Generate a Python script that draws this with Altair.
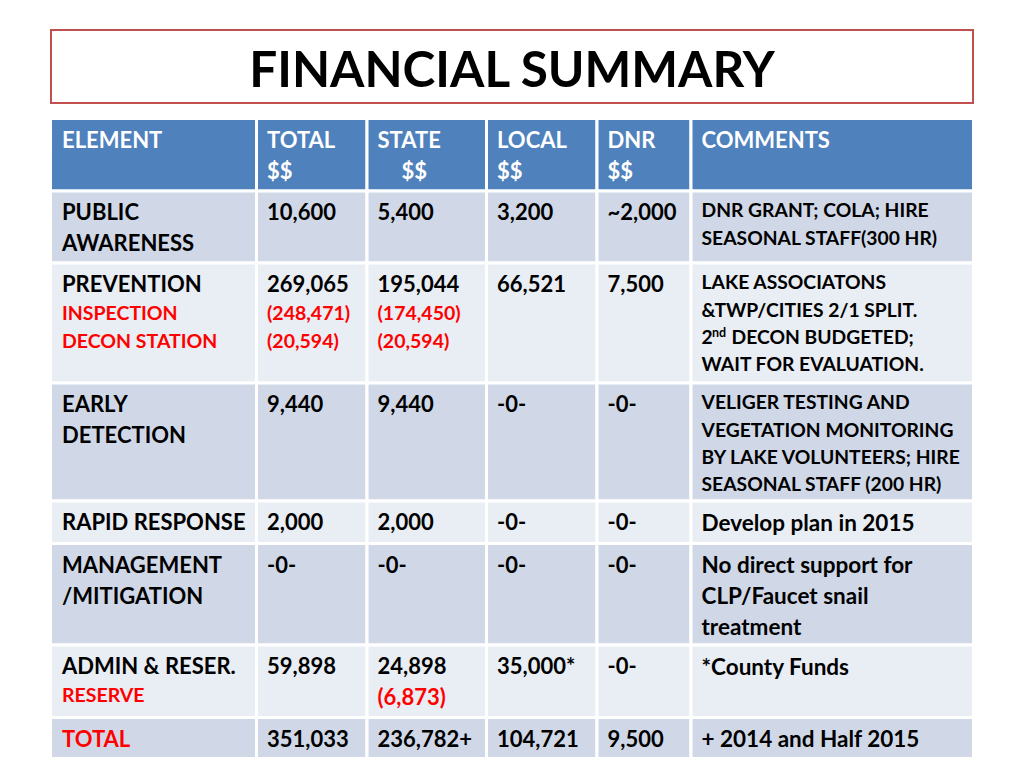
import altair as alt
import pandas as pd

# ---------------- data ----------------
title_text = "FINANCIAL SUMMARY"
headers = [["ELEMENT"], ["TOTAL", "$$"], ["STATE", "$$"], ["LOCAL", "$$"], ["DNR", "$$"], ["COMMENTS"]]

elements = [
    [("PUBLIC", "main"), ("AWARENESS", "main")],
    [("PREVENTION", "main"), ("INSPECTION", "sub"), ("DECON STATION", "sub")],
    [("EARLY", "main"), ("DETECTION", "main")],
    [("RAPID RESPONSE", "main")],
    [("MANAGEMENT", "main"), ("/MITIGATION", "main")],
    [("ADMIN & RESER.", "main"), ("RESERVE", "sub")],
    [("TOTAL", "red")],
]
totals = [
    [("10,600", "main")],
    [("269,065", "main"), ("(248,471)", "sub"), ("(20,594)", "sub")],
    [("9,440", "main")],
    [("2,000", "main")],
    [("-0-", "main")],
    [("59,898", "main")],
    [("351,033", "main")],
]
state = [
    [("5,400", "main")],
    [("195,044", "main"), ("(174,450)", "sub"), ("(20,594)", "sub")],
    [("9,440", "main")],
    [("2,000", "main")],
    [("-0-", "main")],
    [("24,898", "main"), ("(6,873)", "red")],
    [("236,782+", "main")],
]
local = [[("3,200", "main")], [("66,521", "main")], [("-0-", "main")], [("-0-", "main")],
         [("-0-", "main")], [("35,000*", "main")], [("104,721", "main")]]
dnr = [[("~2,000", "main")], [("7,500", "main")], [("-0-", "main")], [("-0-", "main")],
       [("-0-", "main")], [("-0-", "main")], [("9,500", "main")]]
comments = [
    [("DNR GRANT; COLA; HIRE", "note"), ("SEASONAL STAFF(300 HR)", "note")],
    [("LAKE ASSOCIATONS", "note"), ("&TWP/CITIES 2/1 SPLIT.", "note"),
     [("2", "note"), ("nd", "sup"), ("DECON BUDGETED;", "note")],
     ("WAIT FOR EVALUATION.", "note")],
    [("VELIGER TESTING AND", "note"), ("VEGETATION MONITORING", "note"),
     ("BY LAKE VOLUNTEERS; HIRE", "note"), ("SEASONAL STAFF (200 HR)", "note")],
    [("Develop plan in 2015", "cmain")],
    [("No direct support for", "cmain"), ("CLP/Faucet snail", "cmain"), ("treatment", "cmain")],
    [("*County Funds", "cmain")],
    [("+ 2014 and Half 2015", "cmain")],
]
columns = [elements, totals, state, local, dnr, comments]

# ---------------- layout ----------------
FONT = "Lato"
col_edges = [50.5, 256.5, 367, 486.5, 597, 691, 973.5]
row_edges = [118.5, 191, 263, 383, 501, 543.5, 645, 717.5, 758.5]
header_dx = [[0], [0, 0], [0, 24], [0, 0], [0, 0], [0]]
HEAD_BLUE = "#4F81BD"
ROW_DARK = "#D0D8E8"
ROW_LIGHT = "#E9EDF4"
RED = "#FF0000"
styles = {  # size, color, spacing, first-line offset
    "head": (22, "white", 31, 21.5),
    "main": (22, "black", 31, 21.5),
    "cmain": (22.5, "black", 31, 21.5),
    "red": (22, RED, 31, 21.5),
    "sub": (19.5, RED, 28.5, 21.5),
    "note": (19.3, "black", 27.2, 19.5),
    "sup": (12.5, "black", 27.2, 19.5),
}
sup_offsets = [0, 10.5, 30]  # x offsets of the segments of the superscript line

cells = []
for r in range(len(row_edges) - 1):
    fill = HEAD_BLUE if r == 0 else (ROW_DARK if r % 2 == 1 else ROW_LIGHT)
    for c in range(len(col_edges) - 1):
        cells.append(dict(x=col_edges[c], x2=col_edges[c + 1], y=row_edges[r], y2=row_edges[r + 1], fill=fill))
cells_df = pd.DataFrame(cells)

texts = []


def add_line(x, yc, txt, st):
    fs, col, _, _ = styles[st]
    texts.append(dict(x=x, y=yc + 0.3583 * fs, t=txt, fs=fs, col=col))


def text_x(c):
    return 62 if c == 0 else col_edges[c] + 10.5


# header
for c, lines in enumerate(headers):
    yc = row_edges[0] + styles["head"][3]
    for i, ln in enumerate(lines):
        if i > 0:
            yc += styles["head"][2]
        add_line(text_x(c) + header_dx[c][i], yc, ln, "head")

# body
for c, col in enumerate(columns):
    for r, lines in enumerate(col):
        top = row_edges[r + 1]
        yc = None
        for ln in lines:
            st = ln[0][1] if isinstance(ln, list) else ln[1]
            if yc is None:
                yc = top + styles[st][3]
            else:
                yc += styles[st][2]
            if isinstance(ln, list):
                for k, (seg, sst) in enumerate(ln):
                    dy = -4 if sst == "sup" else 0
                    add_line(text_x(c) + sup_offsets[k], yc + dy, seg, sst)
            else:
                add_line(text_x(c), yc, ln[0], ln[1])

texts_df = pd.DataFrame(texts)

X = alt.Scale(domain=[8, 1016], nice=False, zero=False)
Y = alt.Scale(domain=[8, 760], nice=False, zero=False, reverse=True)

title_box = alt.Chart(pd.DataFrame([dict(x=51, x2=973, y=30, y2=103)])).mark_rect(
    fill="white", stroke="#C0504D", strokeWidth=2
).encode(
    x=alt.X("x:Q", scale=X, axis=None), x2="x2:Q",
    y=alt.Y("y:Q", scale=Y, axis=None), y2="y2:Q",
)

TITLE_FS = 49.5
title = alt.Chart(pd.DataFrame([dict(x=512, y=69.5 + 0.3583 * TITLE_FS, t=title_text)])).mark_text(
    font=FONT, fontWeight="bold", fontSize=TITLE_FS, align="center", baseline="alphabetic", color="black"
).encode(
    x=alt.X("x:Q", scale=X, axis=None), y=alt.Y("y:Q", scale=Y, axis=None), text="t:N"
)

rects = alt.Chart(cells_df).mark_rect(stroke="white", strokeWidth=3).encode(
    x=alt.X("x:Q", scale=X, axis=None), x2="x2:Q",
    y=alt.Y("y:Q", scale=Y, axis=None), y2="y2:Q",
    fill=alt.Fill("fill:N", scale=None),
)

body_text = alt.Chart(texts_df).mark_text(
    font=FONT, fontWeight="bold", align="left", baseline="alphabetic"
).encode(
    x=alt.X("x:Q", scale=X, axis=None),
    y=alt.Y("y:Q", scale=Y, axis=None),
    text="t:N",
    size=alt.Size("fs:Q", scale=None),
    color=alt.Color("col:N", scale=None),
)

chart = alt.layer(title_box, title, rects, body_text).properties(
    width=1008, height=752, autosize=alt.AutoSizeParams(type="none"), padding=0,
    background="white",
).configure_view(stroke=None)

chart.save("out.html", embed_options={"renderer": "svg", "actions": False})
